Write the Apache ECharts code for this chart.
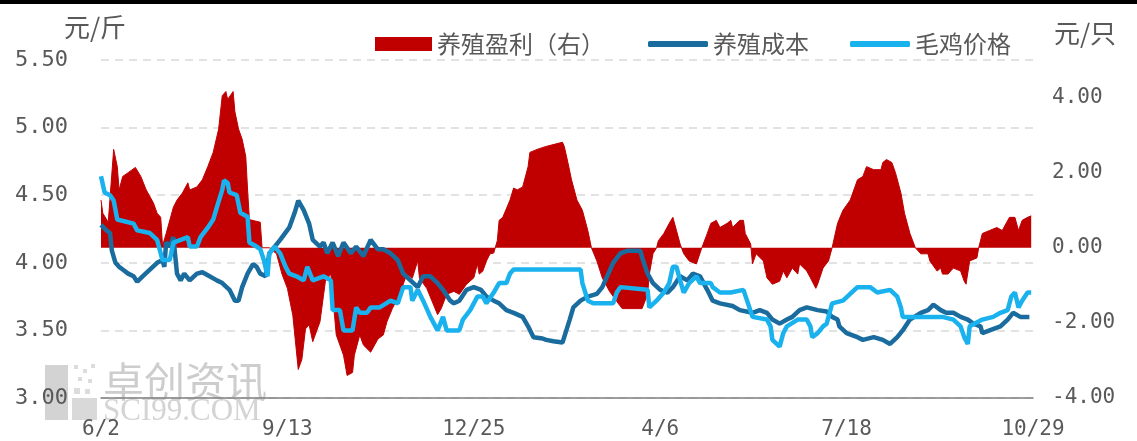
<!DOCTYPE html>
<html><head><meta charset="utf-8">
<script src="https://cdn.jsdelivr.net/npm/echarts@6/dist/echarts.min.js"></script>
<style>html,body{margin:0;padding:0;background:#fff}#c{width:1137px;height:441px}</style>
</head><body><div id="c"></div>
<script>
// x values are days counted from 2019-06-02 (first date of the chart)
const xTickLabels = ['6/2','9/13','12/25','4/6','7/18','10/29'];
const xTickStepDays = 103;
const xLastDay = 515;

// 毛鸡价格 (元/斤, left axis)
const priceDay = [0,2,5,7,9,18,20,27,31,34,38,40,44,48,49,53,55,59,62,64,67,68,70,71,75,77,81,82,86,88,90,92,93,96,99,102,104,108,112,114,115,117,123,127,128,132,134,139,141,143,147,149,154,160,
  164,167,171,172,175,178,182,186,189,191,198,200,204,208,211,213,217,220,224,226,228,265,266,269,272,283,285,287,302,303,307,311,314,316,318,320,322,325,329,331,337,338,342,
  348,355,357,360,368,370,371,375,377,379,385,390,392,393,396,399,401,404,410,414,418,425,429,436,440,442,443,465,471,475,477,479,480,487,493,497,501,503,505,507,509,512,514];
const priceVal = [4.64,4.52,4.50,4.46,4.32,4.29,4.24,4.22,4.17,4.02,4.02,4.15,4.17,4.19,4.12,4.12,4.19,4.26,4.32,4.41,4.54,4.61,4.59,4.52,4.50,4.37,4.34,4.15,4.12,4.10,4.02,3.90,4.07,4.12,4.07,3.97,3.92,3.90,3.87,3.97,3.97,3.87,3.90,3.87,3.65,3.65,3.50,3.50,3.67,3.63,3.63,3.67,3.67,3.72,
  3.70,3.82,3.82,3.72,3.80,3.72,3.60,3.50,3.60,3.50,3.50,3.58,3.65,3.75,3.75,3.70,3.78,3.85,3.85,3.92,3.95,3.95,3.85,3.72,3.70,3.70,3.78,3.82,3.80,3.67,3.72,3.78,3.85,3.97,3.97,3.87,3.78,3.85,3.90,3.85,3.85,3.82,3.78,
  3.78,3.80,3.72,3.60,3.58,3.53,3.43,3.38,3.48,3.53,3.58,3.58,3.53,3.45,3.48,3.53,3.55,3.70,3.72,3.77,3.82,3.82,3.78,3.80,3.75,3.67,3.60,3.60,3.58,3.53,3.45,3.40,3.53,3.58,3.60,3.63,3.65,3.75,3.78,3.67,3.72,3.78,3.78];

// 养殖成本 (元/斤, left axis)
const costDay = [0,3,5,6,8,10,12,15,18,20,23,27,31,34,35,36,38,40,42,44,46,49,53,56,60,64,67,71,74,76,78,81,84,86,88,91,93,96,99,104,107,109,112,115,117,121,123,125,128,131,134,138,141,145,149,153,156,160,
  164,167,171,175,178,182,186,189,193,195,198,202,206,210,213,217,220,224,228,233,236,239,244,246,250,255,259,261,265,269,274,277,283,287,291,298,299,302,305,309,313,316,320,324,327,331,
  335,338,342,349,353,360,364,368,371,375,379,382,386,390,396,401,404,407,408,412,418,421,427,432,436,440,443,447,453,457,460,464,467,471,475,479,482,486,487,491,497,501,504,508,513];
const costVal = [4.28,4.24,4.22,4.09,4.00,3.97,3.95,3.92,3.90,3.86,3.90,3.95,4.00,4.02,3.97,4.15,4.12,4.19,3.92,3.87,3.92,3.87,3.92,3.93,3.90,3.87,3.85,3.80,3.72,3.72,3.82,3.92,3.99,3.97,3.92,3.90,4.07,4.12,4.17,4.26,4.37,4.46,4.39,4.29,4.17,4.12,4.15,4.07,4.15,4.05,4.15,4.07,4.12,4.05,4.17,4.10,4.10,4.07,
  4.02,3.92,3.87,3.82,3.90,3.90,3.85,3.80,3.72,3.70,3.72,3.80,3.82,3.80,3.75,3.72,3.70,3.65,3.63,3.60,3.53,3.45,3.44,3.43,3.42,3.41,3.58,3.67,3.72,3.75,3.77,3.82,4.00,4.07,4.09,4.09,4.04,3.92,3.85,3.80,3.78,3.82,3.90,3.87,3.92,3.90,
  3.80,3.72,3.70,3.68,3.65,3.63,3.65,3.63,3.58,3.55,3.58,3.60,3.65,3.67,3.65,3.64,3.60,3.58,3.53,3.48,3.45,3.43,3.45,3.43,3.40,3.45,3.50,3.58,3.63,3.65,3.69,3.65,3.63,3.63,3.60,3.58,3.55,3.53,3.48,3.50,3.53,3.58,3.63,3.60,3.60];

// 养殖盈利 (元/只, right axis)
const profitDay = [0,1,4,7,9,10,12,15,19,22,25,29,31,33,34,36,40,42,45,48,49,53,56,59,62,65,67,69,70,73,74,76,78,80,81,82,88,89,93,97,100,103,106,109,111,113,115,117,121,124,127,128,130,134,136,139,140,143,145,149,153,156,158,161,
  165,169,172,175,176,180,183,186,188,191,195,198,202,206,208,209,211,213,215,217,219,220,222,226,228,230,233,236,237,241,246,251,255,256,258,260,263,266,269,271,274,277,281,285,288,299,302,303,305,307,308,311,314,316,318,320,322,325,329,332,335,337,340,
  342,346,348,349,353,355,356,359,360,362,366,368,371,375,377,379,382,385,386,390,392,395,396,399,402,404,407,410,414,418,421,423,427,431,432,434,437,439,442,444,447,450,453,457,458,462,464,465,468,471,475,477,478,480,484,485,487,491,495,498,502,505,507,509,512,514];
const profitVal = [1.27,0.92,0.68,2.62,2.16,1.54,1.90,2.00,2.14,1.90,1.54,1.19,0.92,0.81,0.05,0.38,1.08,1.27,1.46,1.73,1.54,1.62,1.81,2.16,2.54,3.16,4.05,4.16,3.95,4.16,3.62,3.16,2.89,2.43,1.54,0.75,0.68,0,0,-0.16,-0.70,-1.08,-1.80,-3.24,-2.97,-2.16,-2.05,-2.50,-1.97,-0.89,-0.70,-1.24,-2.32,-2.86,-3.40,-3.32,-2.86,-2.32,-2.59,-2.78,-2.43,-2.32,-1.97,-1.62,
  -1.24,-0.70,-0.81,-0.35,-0.81,-1.08,-1.43,-1.78,-1.62,-1.24,-1.16,-1.24,-0.97,-0.80,-0.43,-0.70,-0.62,-0.35,-0.16,-0.14,0.19,0.73,0.81,1.27,1.59,1.54,1.62,2.16,2.54,2.62,2.70,2.76,2.81,2.70,2.27,1.81,1.27,1.00,0.46,0,-0.35,-0.80,-1.16,-1.43,-1.62,-1.62,-1.24,-0.70,-0.16,0,0.19,0.38,0.65,0.81,0.46,0.10,-0.16,-0.35,-0.43,0,0.38,0.65,0.73,
  0.54,0.65,0.73,0.54,0.73,0.73,0.38,0.10,-0.43,-0.16,-0.35,-0.80,-0.97,-0.89,-0.62,-0.80,-0.54,-0.70,-0.43,-0.62,-0.80,-1.08,-0.97,-0.54,-0.35,0,0.65,1.00,1.27,1.81,1.90,2.16,2.08,2.08,2.27,2.35,2.27,2.00,1.46,0.92,0.38,0,-0.16,-0.16,-0.35,-0.62,-0.54,-0.70,-0.70,-0.54,-0.62,-0.89,-0.97,-0.35,-0.27,0,0.38,0.46,0.54,0.46,0.81,0.81,0.46,0.73,0.81,0.85];

const zip = (xs, ys) => xs.slice(0, Math.min(xs.length, ys.length)).map((x, i) => [x, ys[i]]);

const FONT_CN = '"Noto Sans CJK SC", sans-serif';
const FONT_NUM = '"DejaVu Sans Mono", monospace';
const TXT = '#595959';
const RED = '#C00000', DARK = '#1B6C9E', LIGHT = '#19B2EE';

const chart = echarts.init(document.getElementById('c'), null, {renderer: 'canvas'});
chart.setOption({
  animation: false,
  backgroundColor: '#fff',
  grid: {left: 101, right: 104, top: 60, bottom: 43},
  legend: [
    {data: [{name: '养殖盈利（右）', icon: 'rect'}], left: 375, top: 32, padding: 0,
     itemWidth: 57, itemHeight: 14, selectedMode: false,
     textStyle: {fontSize: 24, color: TXT, fontFamily: FONT_CN}},
    {data: [{name: '养殖成本', icon: 'roundRect'}, {name: '毛鸡价格', icon: 'roundRect'}], left: 648, top: 32, padding: 0,
     itemWidth: 60, itemHeight: 6, itemGap: 41, selectedMode: false,
     textStyle: {fontSize: 24, color: TXT, fontFamily: FONT_CN}}
  ],
  xAxis: {
    type: 'value', min: 0, max: xLastDay, interval: xTickStepDays,
    axisLine: {show: true, onZero: false, lineStyle: {color: '#7f7f7f', width: 1.5}},
    axisTick: {show: false},
    splitLine: {show: false},
    axisLabel: {margin: 21, fontSize: 21, color: TXT, fontFamily: FONT_NUM,
      formatter: v => xTickLabels[Math.round(v / xTickStepDays)] || ''}
  },
  yAxis: [
    {type: 'value', min: 3, max: 5.5, interval: 0.5, position: 'left',
     axisLine: {show: false}, axisTick: {show: false},
     axisLabel: {margin: 33, fontSize: 22, color: TXT, fontFamily: FONT_NUM, formatter: v => v.toFixed(2)},
     splitLine: {show: true, lineStyle: {type: [8, 6], color: '#d9d9d9', width: 1.5}}},
    {type: 'value', min: -4, max: 5, interval: 2, position: 'right',
     axisLine: {show: false}, axisTick: {show: false}, splitLine: {show: false},
     axisLabel: {margin: 19, align: 'left', fontSize: 21, color: TXT, fontFamily: FONT_NUM, showMaxLabel: false,
       formatter: v => (Math.abs(v % 2) < 1e-9 ? v.toFixed(2) : '')}}
  ],
  series: [
    {name: '养殖盈利（右）', type: 'line', yAxisIndex: 1, data: zip(profitDay, profitVal),
     symbol: 'none', color: RED, lineStyle: {color: RED, width: 1},
     areaStyle: {color: RED, opacity: 1, origin: 0}, z: 1},
    {name: '养殖成本', type: 'line', yAxisIndex: 0, data: zip(costDay, costVal),
     symbol: 'none', color: DARK, lineStyle: {color: DARK, width: 4.5}, z: 3},
    {name: '毛鸡价格', type: 'line', yAxisIndex: 0, data: zip(priceDay, priceVal),
     symbol: 'none', color: LIGHT, lineStyle: {color: LIGHT, width: 4.5}, z: 4}
  ],
  graphic: [
    {type: 'rect', shape: {x: 0, y: 0, width: 1137, height: 4}, style: {fill: '#000'}, z: 100},
    {type: 'text', x: 95, y: 27, style: {text: '元/斤', fontSize: 26, fontFamily: FONT_CN, fill: TXT,
      align: 'center', verticalAlign: 'middle', textAlign: 'center', textVerticalAlign: 'middle'}},
    {type: 'text', x: 1085, y: 33, style: {text: '元/只', fontSize: 26, fontFamily: FONT_CN, fill: TXT,
      align: 'center', verticalAlign: 'middle', textAlign: 'center', textVerticalAlign: 'middle'}},
    {type: 'group', z: -10, children: [
      {type: 'rect', shape: {x: 45, y: 365, width: 23, height: 55}, style: {fill: '#d3d3d3'}},
      {type: 'rect', shape: {x: 72, y: 398, width: 25, height: 22}, style: {fill: '#d9d9d9'}},
      {type: 'rect', shape: {x: 74, y: 365, width: 4, height: 4}, style: {fill: '#dcdcdc'}},
      {type: 'rect', shape: {x: 83, y: 369, width: 4, height: 4}, style: {fill: '#dcdcdc'}},
      {type: 'rect', shape: {x: 91, y: 364, width: 4, height: 4}, style: {fill: '#dcdcdc'}},
      {type: 'rect', shape: {x: 78, y: 377, width: 4, height: 4}, style: {fill: '#dcdcdc'}},
      {type: 'rect', shape: {x: 88, y: 379, width: 4, height: 4}, style: {fill: '#dcdcdc'}},
      {type: 'rect', shape: {x: 74, y: 388, width: 6, height: 6}, style: {fill: '#dcdcdc'}},
      {type: 'rect', shape: {x: 85, y: 389, width: 5, height: 5}, style: {fill: '#dcdcdc'}},
      {type: 'text', x: 103, y: 381, style: {text: '卓创资讯', fontSize: 41, fontFamily: FONT_CN, fill: '#cdcdcd',
        align: 'left', verticalAlign: 'middle', textAlign: 'left', textVerticalAlign: 'middle'}},
      {type: 'text', x: 103, y: 412, style: {text: 'SCI99.COM', fontSize: 31, fontFamily: '"Liberation Serif", serif', fill: '#d4d4d4',
        align: 'left', verticalAlign: 'middle', textAlign: 'left', textVerticalAlign: 'middle'}}
    ]}
  ]
});
</script>
</body></html>
